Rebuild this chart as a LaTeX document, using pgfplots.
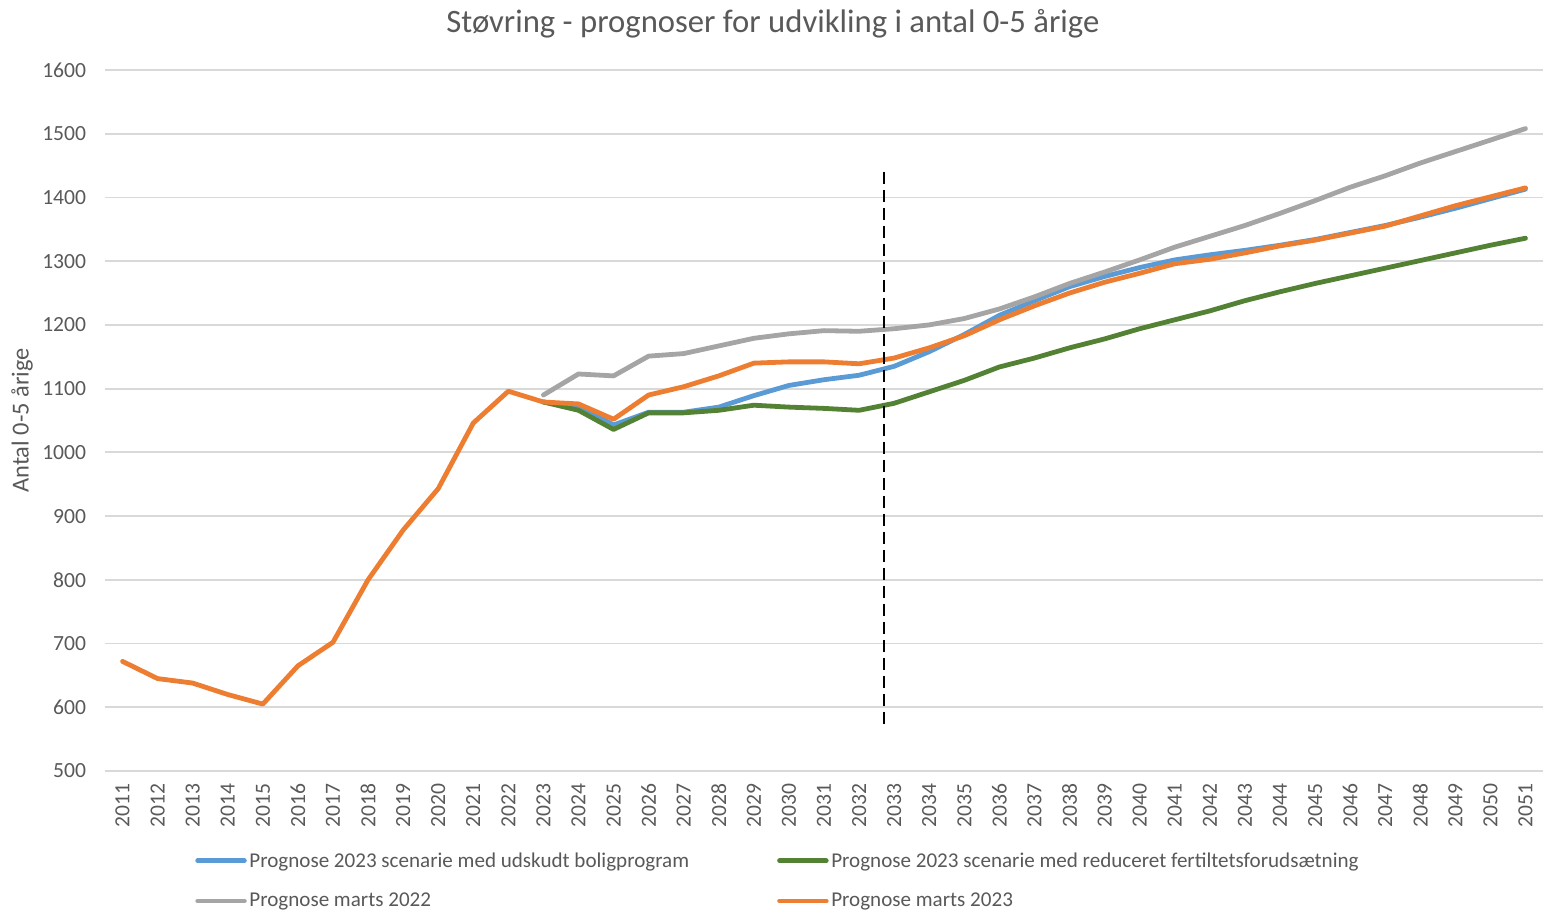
\documentclass[border=0pt]{standalone}
\usepackage{pgfplots}
\pgfplotsset{compat=1.18}
\usepackage{fontspec}
\setmainfont{Carlito}
\definecolor{cblue}{HTML}{5B9BD5}
\definecolor{corange}{HTML}{ED7D31}
\definecolor{cgrey}{HTML}{A5A5A5}
\definecolor{cgreen}{HTML}{548235}
\definecolor{ctext}{HTML}{595959}
\definecolor{cgrid}{HTML}{D9D9D9}
\begin{document}
\begin{tikzpicture}
\useasboundingbox (-78.75pt,-104.25pt) rectangle (1079.25pt,578.25pt);
\begin{axis}[
  at={(0pt,0pt)}, anchor=south west,
  scale only axis,
  width=1078.5pt, height=525.75pt,
  xmin=2010.5, xmax=2051.5,
  ymin=500, ymax=1600,
  xtick distance=1, ytick distance=100,
  major tick length=0pt,
  axis line style={draw=none},
  ymajorgrids, grid style={cgrid, line width=1.3pt},
  /pgf/number format/assume math mode=true,
  /pgf/number format/1000 sep={},
  ticklabel style={font=\fontsize{16.2}{18}\selectfont, text=ctext, inner sep=0pt},
  xticklabel style={rotate=90, anchor=east},
  yticklabel style={anchor=east},
  xticklabel shift=9pt,
  yticklabel shift=14pt,
  title={Støvring - prognoser for udvikling i antal 0-5 årige},
  title style={at={(0.4645,1)}, anchor=center, yshift=29pt, font=\fontsize{24.5}{28}\selectfont, text=ctext},
  ylabel={Antal 0-5 årige},
  ylabel style={at={(axis description cs:-0.0577,0.5)}, anchor=center, rotate=0, font=\fontsize{18.3}{20}\selectfont, text=ctext},
  legend columns=2,
  legend cell align=left,
  legend style={draw=none, at={(0.0626,-0.112)}, anchor=north west, inner sep=0pt,
    font=\fontsize{15.8}{18}\selectfont, text=ctext, row sep=14pt,
    /tikz/every even column/.append style={column sep=64pt}},
  legend image code/.code={\draw[#1] (0pt,0pt) -- (35pt,0pt);},
  every axis plot/.append style={line width=3.6pt, line join=round, line cap=round},
]
\addplot[cblue] coordinates {
(2023,1079)(2024,1072)(2025,1043)(2026,1063)(2027,1063)(2028,1071)(2029,1089)(2030,1105)
(2031,1114)(2032,1121)(2033,1135)(2034,1158)(2035,1185)(2036,1215)(2037,1238)(2038,1260)
(2039,1276)(2040,1290)(2041,1302)(2042,1310)(2043,1317)(2044,1325)(2045,1334)(2046,1345)
(2047,1356)(2048,1369)(2049,1383)(2050,1398)(2051,1413)};
\addlegendentry{Prognose 2023 scenarie med udskudt boligprogram}
\addplot[cgreen] coordinates {
(2023,1079)(2024,1066)(2025,1036)(2026,1062)(2027,1062)(2028,1066)(2029,1074)(2030,1071)
(2031,1069)(2032,1066)(2033,1077)(2034,1095)(2035,1113)(2036,1134)(2037,1148)(2038,1164)
(2039,1178)(2040,1194)(2041,1208)(2042,1222)(2043,1238)(2044,1252)(2045,1265)(2046,1277)
(2047,1289)(2048,1301)(2049,1313)(2050,1325)(2051,1336)};
\addlegendentry{Prognose 2023 scenarie med reduceret fertiltetsforudsætning}
\addplot[cgrey] coordinates {
(2023,1090)(2024,1123)(2025,1120)(2026,1151)(2027,1155)(2028,1167)(2029,1179)(2030,1186)
(2031,1191)(2032,1190)(2033,1194)(2034,1200)(2035,1210)(2036,1225)(2037,1244)(2038,1265)
(2039,1283)(2040,1302)(2041,1322)(2042,1339)(2043,1356)(2044,1375)(2045,1395)(2046,1416)
(2047,1434)(2048,1454)(2049,1472)(2050,1490)(2051,1508)};
\addlegendentry{Prognose marts 2022}
\addplot[corange] coordinates {
(2011,672)(2012,645)(2013,638)(2014,620)(2015,605)(2016,665)(2017,702)(2018,800)
(2019,878)(2020,943)(2021,1046)(2022,1096)(2023,1079)(2024,1076)(2025,1052)(2026,1090)
(2027,1103)(2028,1120)(2029,1140)(2030,1142)(2031,1142)(2032,1139)(2033,1148)(2034,1164)
(2035,1183)(2036,1208)(2037,1230)(2038,1250)(2039,1267)(2040,1281)(2041,1296)(2042,1303)
(2043,1313)(2044,1324)(2045,1333)(2046,1344)(2047,1355)(2048,1371)(2049,1387)(2050,1401)
(2051,1415)};
\addlegendentry{Prognose marts 2023}
\addplot[black, line width=1.5pt, line cap=butt, dash pattern=on 9pt off 4.5pt, forget plot] coordinates {(2032.72,1440)(2032.72,573)};
\end{axis}
\end{tikzpicture}
\end{document}
